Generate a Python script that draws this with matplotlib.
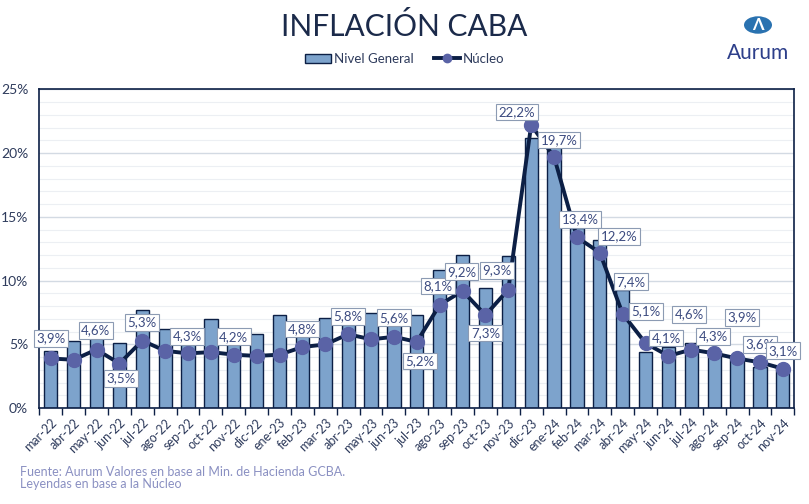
import numpy as np
import matplotlib.pyplot as plt
from matplotlib.patches import Patch, Circle
from matplotlib.lines import Line2D

# --- datos ---
meses = ["mar-22", "abr-22", "may-22", "jun-22", "jul-22", "ago-22", "sep-22", "oct-22",
         "nov-22", "dic-22", "ene-23", "feb-23", "mar-23", "abr-23", "may-23", "jun-23",
         "jul-23", "ago-23", "sep-23", "oct-23", "nov-23", "dic-23", "ene-24", "feb-24",
         "mar-24", "abr-24", "may-24", "jun-24", "jul-24", "ago-24", "sep-24", "oct-24",
         "nov-24"]
nivel_general = [4.5, 5.3, 5.5, 5.1, 7.7, 6.2, 5.3, 7.0, 5.0, 5.8, 7.3, 6.0, 7.1, 6.6,
                 7.5, 7.0, 7.3, 10.8, 12.0, 9.4, 11.9, 21.2, 20.6, 14.1, 13.2, 9.3,
                 4.4, 4.8, 5.1, 4.5, 4.0, 3.2, 3.2]
nucleo = [3.9, 3.8, 4.6, 3.5, 5.3, 4.5, 4.3, 4.4, 4.2, 4.1, 4.2, 4.8, 5.0, 5.8, 5.4,
          5.6, 5.2, 8.1, 9.2, 7.3, 9.3, 22.2, 19.7, 13.4, 12.2, 7.4, 5.1, 4.1, 4.6,
          4.3, 3.9, 3.6, 3.1]

# etiquetas: índice -> desplazamiento (px) del centro de la etiqueta
etiquetas = {0: (0, 20), 2: (-1, 19), 3: (2, -15), 4: (0, 18), 6: (-1, 17), 8: (0, 18),
             11: (0, 18), 13: (0, 18), 15: (0, 19), 16: (3, -19), 17: (-2, 19),
             18: (-1, 19), 19: (0, -18), 20: (-11, 19), 21: (-14, 13), 22: (5, 17),
             23: (3, 18), 24: (19, 16), 25: (8, 32), 26: (0, 32), 27: (-2, 18),
             28: (-2, 35), 29: (-1, 17), 30: (5, 41), 31: (0, 18), 32: (0, 18)}

navy = "#0c1f45"
bar_color = "#7da3cc"
marker_color = "#5a63a6"
text_color = "#2e3b5c"

plt.rcParams["font.family"] = ["Lato", "DejaVu Sans"]

fig = plt.figure(figsize=(8.09, 5.04), dpi=100)
ax = fig.add_axes([0.0486, 0.19, 0.9332, 0.6328])

x = np.arange(len(meses))
ax.bar(x, nivel_general, width=0.58, color=bar_color, edgecolor=navy,
       linewidth=1.0, zorder=2)
ax.plot(x, nucleo, color=navy, linewidth=2.8, marker="o", markersize=10,
        markerfacecolor=marker_color, markeredgecolor=marker_color, zorder=3)

for i, (dx, dy) in etiquetas.items():
    txt = f"{nucleo[i]:.1f}%".replace(".", ",")
    ax.annotate(txt, (x[i], nucleo[i]), xytext=(dx, dy), textcoords="offset pixels",
                ha="center", va="center", fontsize=9.5, color="#3c4b80", zorder=4,
                bbox=dict(boxstyle="square,pad=0.18", facecolor="white",
                          edgecolor="#8c9bb3", linewidth=0.8))

# --- ejes ---
ax.set_xlim(-0.5, len(meses) - 0.5)
ax.set_ylim(0, 25)
ax.set_xticks(x)
ax.set_xticklabels(meses, rotation=45, ha="right", rotation_mode="anchor",
                   fontsize=9, color=text_color)
ax.tick_params(axis="x", which="major", length=0, pad=6)
ax.set_xticks(np.arange(-0.5, len(meses)), minor=True)
ax.tick_params(axis="x", which="minor", length=5, width=1, color=navy, direction="out")

ax.set_yticks(np.arange(0, 26, 5))
ax.set_yticklabels([f"{v}%" for v in range(0, 26, 5)], fontsize=10, color=text_color)
ax.set_yticks(np.arange(0, 26, 1), minor=True)
ax.tick_params(axis="y", which="both", length=0, pad=8)

ax.grid(axis="y", which="major", color="#d3dae3", linewidth=1.0, zorder=0)
ax.grid(axis="y", which="minor", color="#eceff3", linewidth=0.8, zorder=0)
ax.set_axisbelow(True)
for s in ax.spines.values():
    s.set_color(navy)
    s.set_linewidth(1.2)

# --- título y leyenda ---
fig.text(0.5, 0.948, "INFLACIÓN CABA", ha="center", va="center", fontsize=21.5,
         color="#1b2a4a")
handles = [Patch(facecolor=bar_color, edgecolor=navy, linewidth=1.0),
           Line2D([0], [0], color=navy, linewidth=2.8, marker="o", markersize=6,
                  markerfacecolor=marker_color, markeredgecolor=marker_color)]
leg = fig.legend(handles, ["Nivel General", "Núcleo"], loc="center",
                 bbox_to_anchor=(0.5, 0.883), ncol=2, frameon=False, fontsize=9.5,
                 handlelength=2.0, handletextpad=0.2, columnspacing=1.5)
for t in leg.get_texts():
    t.set_color(text_color)

# --- logo ---
fig.patches.append(Circle((758 / 809, 1 - 25 / 504), 14 / 809, transform=fig.transFigure,
                          facecolor="#2a72b0", edgecolor="none"))
fig.text(758 / 809, 1 - 25 / 504, "Λ", ha="center", va="center", fontsize=12,
         color="white", fontweight="bold")
fig.text(758 / 809, 1 - 53 / 504, "Aurum", ha="center", va="center", fontsize=15,
         color="#2d3f8a")

# --- fuente ---
fig.text(20 / 809, 1 - 478 / 504,
         "Fuente: Aurum Valores en base al Min. de Hacienda GCBA.\nLeyendas en base a la Núcleo",
         ha="left", va="center", fontsize=9, color="#8a90c2", linespacing=1.0)

fig.savefig("out.png", dpi=100)
